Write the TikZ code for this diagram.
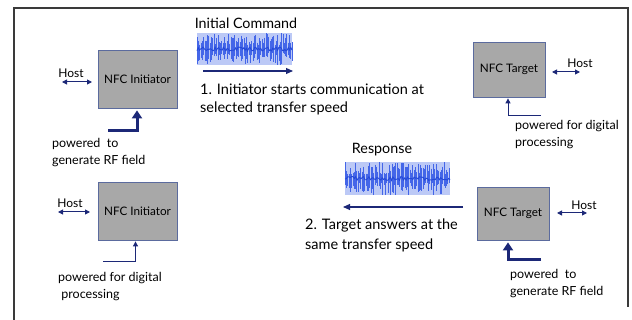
\documentclass[tikz,border=0pt]{standalone}
\usepackage{fontspec}
\setmainfont{Lato}
\usetikzlibrary{arrows.meta}

\definecolor{BoxGrey}{HTML}{A8A8A8}
\definecolor{BoxEdge}{HTML}{5B6B9E}
\definecolor{ArrowNavy}{HTML}{1C2877}
\definecolor{WaveBlue}{HTML}{4466E8}
\definecolor{WaveDark}{HTML}{2448D8}
\definecolor{WaveLight}{HTML}{BCC9F6}
\definecolor{FrameGrey}{HTML}{3A3A3A}

\tikzstyle{nfc-box}=[draw=BoxEdge, fill=BoxGrey, line width=0.8pt, minimum width=79pt, minimum height=58pt, inner sep=0pt, font=\fontsize{11.7}{13}\selectfont]
\tikzstyle{host-label}=[inner sep=0pt, font=\fontsize{12}{13}\selectfont]
\tikzstyle{host-arrow}=[ArrowNavy, line width=1pt, {Triangle[width=5pt,length=5pt]}-{Triangle[width=5pt,length=5pt]}]
\tikzstyle{power-thick}=[ArrowNavy, line width=3pt, -{Triangle[width=10pt,length=8pt]}, shorten >=2pt]
\tikzstyle{power-thin}=[ArrowNavy, line width=1pt, -{Triangle[width=5pt,length=5pt]}, shorten >=1pt]
\tikzstyle{air-arrow}=[ArrowNavy, line width=1.1pt, -{Triangle[width=6pt,length=7pt]}]
\tikzstyle{title-text}=[inner sep=0pt, font=\fontsize{14.3}{16}\selectfont]
\tikzstyle{step-text}=[anchor=west, align=left, inner sep=0pt, font=\fontsize{14.5}{18}\selectfont]
\tikzstyle{note-text}=[anchor=west, align=left, inner sep=0pt, font=\fontsize{12.5}{17}\selectfont]

% noisy RF burst: x, y, width, height
\newcommand{\rfburst}[4]{%
  \begin{scope}[shift={(#1,#2)}]
    \fill[WaveLight] (0,0) rectangle (#3,#4);
    \foreach \k in {0,1.3,...,#3} {
      \pgfmathsetmacro{\up}{0.5*#4*(0.25+0.75*rnd)}
      \pgfmathsetmacro{\dn}{0.5*#4*(0.25+0.75*rnd)}
      \draw[WaveBlue, line width=0.6pt] (\k,0.5*#4-\up) -- (\k,0.5*#4+\dn);
    }
    \draw[WaveDark, line width=0.9pt] plot[domain=0:#3, samples=80] (\x, {0.5*#4+2*rand});
  \end{scope}}

\begin{document}
\begin{tikzpicture}[x=1pt, y=-1pt]
  \useasboundingbox (0,0) rectangle (632,320);
  \draw[FrameGrey, line width=1.2pt] (14,320) -- (14,8) -- (628,8) -- (628,307);
  \pgfmathsetseed{11}

  % devices
  \node (box-init1) at (137.5,79) [nfc-box] {NFC Initiator};
  \node (box-target1) at (509,69.5) [nfc-box, minimum width=72pt, minimum height=55pt] {NFC Target};
  \node (box-init2) at (137.5,211) [nfc-box] {NFC Initiator};
  \node (box-target2) at (513,213.5) [nfc-box, minimum width=72pt, minimum height=53pt] {NFC Target};

  % host links
  \node (host-init1) at (71,73) [host-label] {Host};
  \coordinate (hl-init1) at (62,82);
  \coordinate (hr-init1) at (92,82);
  \draw[host-arrow] (hl-init1) -- (hr-init1);
  \node (host-target1) at (580,63) [host-label] {Host};
  \coordinate (hl-target1) at (552,72);
  \coordinate (hr-target1) at (580,72);
  \draw[host-arrow] (hl-target1) -- (hr-target1);
  \node (host-init2) at (70,203) [host-label] {Host};
  \coordinate (hl-init2) at (58,212);
  \coordinate (hr-init2) at (90,212);
  \draw[host-arrow] (hl-init2) -- (hr-init2);
  \node (host-target2) at (584,205) [host-label] {Host};
  \coordinate (hl-target2) at (557,213);
  \coordinate (hr-target2) at (587,213);
  \draw[host-arrow] (hl-target2) -- (hr-target2);

  % power supply
  \coordinate (pw-init1) at (108,131);
  \draw[power-thick] (pw-init1) -| ([xshift=-0.5pt]box-init1.south);
  \coordinate (pw-target1) at (541,116);
  \draw[power-thin] (pw-target1) -| ([xshift=-1pt]box-target1.south);
  \coordinate (pw-init2) at (103,262);
  \draw[power-thin] (pw-init2) -| ([xshift=-2pt]box-init2.south);
  \coordinate (pw-target2) at (541,260);
  \draw[power-thick] (pw-target2) -| ([xshift=-5pt]box-target2.south);

  \node (note-init1) at (52,153) [note-text] {powered\ \ to\\generate RF field};
  \node (note-target1) at (515,134.5) [note-text] {powered for digital\\processing};
  \node (note-init2) at (58,286.5) [note-text] {powered for digital\\\ processing};
  \node (note-target2) at (510,284) [note-text] {powered\ \ to\\generate RF field};

  % initial command
  \node (title-cmd) at (246,23) [title-text] {Initial Command};
  \rfburst{197}{33}{95}{32}
  \coordinate (cmd-from) at (203,71);
  \coordinate (cmd-to) at (293,71);
  \draw[air-arrow] (cmd-from) -- (cmd-to);
  \node (step-one) at (200,99.5) [step-text] {1. Initiator starts communication at\\selected transfer speed};

  % response
  \node (title-rsp) at (382,150) [title-text] {Response};
  \rfburst{345}{162}{105}{33}
  \coordinate (rsp-from) at (463,207);
  \coordinate (rsp-to) at (343,207);
  \draw[air-arrow] (rsp-from) -- (rsp-to);
  \node (step-two) at (305,235) [step-text, font=\fontsize{14.5}{20}\selectfont] {2. Target answers at the\\same transfer speed};
\end{tikzpicture}
\end{document}
